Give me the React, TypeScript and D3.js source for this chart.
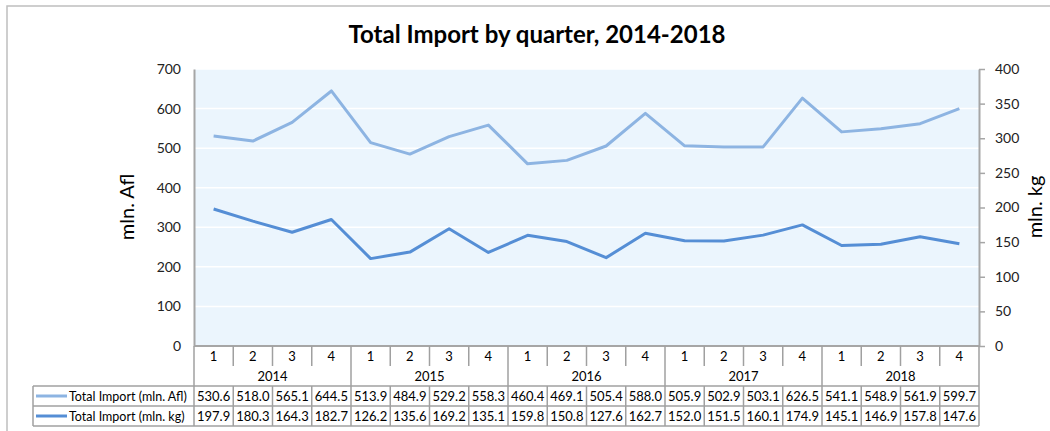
import React, { useEffect, useRef } from 'react';
import * as d3 from 'd3';

const years = ['2014', '2015', '2016', '2017', '2018'];
const quarters = ['1', '2', '3', '4'];
const importAfl = [530.6, 518.0, 565.1, 644.5, 513.9, 484.9, 529.2, 558.3, 460.4, 469.1, 505.4, 588.0, 505.9, 502.9, 503.1, 626.5, 541.1, 548.9, 561.9, 599.7];
const importKg = [197.9, 180.3, 164.3, 182.7, 126.2, 135.6, 169.2, 135.1, 159.8, 150.8, 127.6, 162.7, 152.0, 151.5, 160.1, 174.9, 145.1, 146.9, 157.8, 147.6];
const leftTicks = [0, 100, 200, 300, 400, 500, 600, 700];
const rightTicks = [0, 50, 100, 150, 200, 250, 300, 350, 400];

const FONT = 'Lato, "Open Sans", sans-serif';

function App() {
    const svgRef = useRef<SVGSVGElement>(null);

    useEffect(() => {
        const svg = d3.select(svgRef.current);
        svg.selectAll('*').remove();

        const width = 1050;
        const height = 431;
        const plot = { left: 194, right: 979, top: 69, bottom: 346 };
        const gridColor = '#a6a6a6';
        const lightBlue = '#8db4e2';
        const darkBlue = '#558ed5';

        const cats = years.flatMap(y => quarters.map(q => `${y}-${q}`));

        const x = d3.scaleBand().domain(cats).range([plot.left, plot.right]);
        const yL = d3.scaleLinear().domain([0, 700]).range([plot.bottom, plot.top]);
        const yR = d3.scaleLinear().domain([0, 400]).range([plot.bottom, plot.top]);
        const cx = (i: number) => (x(cats[i]) as number) + x.bandwidth() / 2;

        // chart frame
        svg.append('rect')
            .attr('x', 7).attr('y', 6)
            .attr('width', width + 10).attr('height', height + 10)
            .attr('fill', 'white')
            .attr('stroke', '#bfbfbf')
            .attr('stroke-width', 1.5);

        // title
        svg.append('text')
            .attr('x', 537).attr('y', 43)
            .attr('text-anchor', 'middle')
            .style('font-family', FONT)
            .style('font-size', '24px')
            .style('font-weight', 'bold')
            .text('Total Import by quarter, 2014-2018');

        // plot background
        svg.append('rect')
            .attr('x', plot.left).attr('y', plot.top)
            .attr('width', plot.right - plot.left).attr('height', plot.bottom - plot.top)
            .attr('fill', '#ebf5fd');

        // gridlines
        svg.append('g')
            .selectAll('line')
            .data(leftTicks.slice(1))
            .enter()
            .append('line')
            .attr('x1', plot.left).attr('x2', plot.right)
            .attr('y1', d => yL(d)).attr('y2', d => yL(d))
            .attr('stroke', 'white')
            .attr('stroke-width', 1.5);

        // left axis
        const leftAxis = svg.append('g')
            .attr('transform', `translate(${plot.left},0)`)
            .call(d3.axisLeft(yL).tickValues(leftTicks).tickSize(0).tickPadding(13));
        leftAxis.select('.domain').attr('stroke', gridColor).attr('stroke-width', 2);
        leftAxis.selectAll('text')
            .style('font-family', FONT)
            .style('font-size', '14px')
            .style('fill', '#222');

        // right axis
        const rightAxis = svg.append('g')
            .attr('transform', `translate(${plot.right},0)`)
            .call(d3.axisRight(yR).tickValues(rightTicks).tickSizeInner(6).tickSizeOuter(0).tickPadding(10));
        rightAxis.select('.domain').attr('stroke', gridColor).attr('stroke-width', 2);
        rightAxis.selectAll('line').attr('stroke', gridColor).attr('stroke-width', 1.5);
        rightAxis.selectAll('text')
            .style('font-family', FONT)
            .style('font-size', '14px')
            .style('fill', '#222');

        // axis labels
        svg.append('text')
            .attr('transform', `translate(134,207) rotate(-90)`)
            .attr('text-anchor', 'middle')
            .style('font-family', FONT)
            .style('font-size', '20px')
            .text('mln. Afl');
        svg.append('text')
            .attr('transform', `translate(1042,207) rotate(-90)`)
            .attr('text-anchor', 'middle')
            .style('font-family', FONT)
            .style('font-size', '20px')
            .text('mln. kg');

        // lines
        const lineL = d3.line<number>().x((_, i) => cx(i)).y(d => yL(d));
        const lineR = d3.line<number>().x((_, i) => cx(i)).y(d => yR(d));
        svg.append('path')
            .datum(importAfl)
            .attr('fill', 'none')
            .attr('stroke', lightBlue)
            .attr('stroke-width', 3)
            .attr('stroke-linejoin', 'round')
            .attr('d', lineL);
        svg.append('path')
            .datum(importKg)
            .attr('fill', 'none')
            .attr('stroke', darkBlue)
            .attr('stroke-width', 3)
            .attr('stroke-linejoin', 'round')
            .attr('d', lineR);

        // data table
        const tb = { quarterBottom: 366, yearBottom: 386, row1: 406, row2: 426, legendLeft: 33 };
        const tableColor = '#a0a0a0';
        const table = svg.append('g');

        // bottom axis line
        table.append('line')
            .attr('x1', plot.left).attr('x2', plot.right)
            .attr('y1', plot.bottom).attr('y2', plot.bottom)
            .attr('stroke', gridColor).attr('stroke-width', 2);

        // category dividers
        d3.range(cats.length + 1).forEach(i => {
            const xx = i === cats.length ? plot.right : (x(cats[i]) as number);
            const isYear = i % 4 === 0;
            table.append('line')
                .attr('x1', xx).attr('x2', xx)
                .attr('y1', plot.bottom)
                .attr('y2', isYear ? tb.row2 : tb.quarterBottom)
                .attr('stroke', tableColor).attr('stroke-width', 1.5);
            if (!isYear) {
                table.append('line')
                    .attr('x1', xx).attr('x2', xx)
                    .attr('y1', tb.yearBottom).attr('y2', tb.row2)
                    .attr('stroke', tableColor).attr('stroke-width', 1.5);
            }
        });

        // horizontal table lines
        [tb.yearBottom, tb.row1, tb.row2].forEach(yy => {
            table.append('line')
                .attr('x1', tb.legendLeft).attr('x2', plot.right)
                .attr('y1', yy).attr('y2', yy)
                .attr('stroke', tableColor).attr('stroke-width', 1.5);
        });
        table.append('line')
            .attr('x1', tb.legendLeft).attr('x2', tb.legendLeft)
            .attr('y1', tb.yearBottom).attr('y2', tb.row2)
            .attr('stroke', tableColor).attr('stroke-width', 1.5);

        // quarter labels
        table.selectAll('.q')
            .data(cats)
            .enter()
            .append('text')
            .attr('x', (_, i) => cx(i))
            .attr('y', 361)
            .attr('text-anchor', 'middle')
            .style('font-family', FONT)
            .style('font-size', '13px')
            .text(d => d.split('-')[1]);

        // year labels
        table.selectAll('.yr')
            .data(years)
            .enter()
            .append('text')
            .attr('x', (_, i) => ((x(cats[i * 4]) as number) + (x(cats[i * 4 + 3]) as number) + x.bandwidth()) / 2)
            .attr('y', 381)
            .attr('text-anchor', 'middle')
            .style('font-family', FONT)
            .style('font-size', '13px')
            .text(d => d);

        // data rows
        const rows = [
            { name: 'Total Import (mln. Afl)', values: importAfl, color: lightBlue, y: (tb.yearBottom + tb.row1) / 2 },
            { name: 'Total Import (mln. kg)', values: importKg, color: darkBlue, y: (tb.row1 + tb.row2) / 2 },
        ];
        rows.forEach(r => {
            table.append('line')
                .attr('x1', 36).attr('x2', 67)
                .attr('y1', r.y).attr('y2', r.y)
                .attr('stroke', r.color).attr('stroke-width', 3);
            table.append('text')
                .attr('x', 69).attr('y', r.y + 4.5)
                .style('font-family', FONT)
                .style('font-size', '12.5px')
                .text(r.name);
            table.selectAll(null)
                .data(r.values)
                .enter()
                .append('text')
                .attr('x', (_, i) => cx(i))
                .attr('y', r.y + 4.5)
                .attr('text-anchor', 'middle')
                .style('font-family', FONT)
                .style('font-size', '13px')
                .text(d => d.toFixed(1));
        });
    }, []);

    return (
        <svg ref={svgRef} width={1050} height={431}
            style={{ position: 'absolute', left: 0, top: 0, display: 'block' }}></svg>
    );
}

export default App;
